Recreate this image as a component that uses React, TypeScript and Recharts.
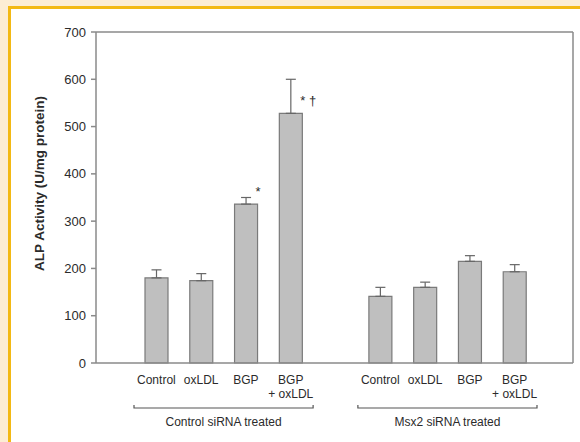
import { BarChart, Bar, XAxis, YAxis, ErrorBar, LabelList, ReferenceLine, Label } from 'recharts';

// categories along the x axis (empty slot separates the two siRNA groups)
const categories = ['Control', 'oxLDL', 'BGP', 'BGP + oxLDL', '', 'Control', 'oxLDL', 'BGP', 'BGP + oxLDL'];
const tickTop = ['Control', 'oxLDL', 'BGP', 'BGP', '', 'Control', 'oxLDL', 'BGP', 'BGP'];
const tickBottom = ['', '', '', '+ oxLDL', '', '', '', '', '+ oxLDL'];

// ALP activity (U/mg protein), mean and SD
const alpMean = [180, 174, 336, 528, null, 141, 160, 215, 193];
const alpSd = [17, 15, 14, 72, null, 19, 11, 12, 15];
const sigMarks = ['', '', '*', '* †', '', '', '', '', ''];

const groupLabels = ['Control siRNA treated', 'Msx2 siRNA treated'];
const groupStart = [0, 5];
const groupSize = [4, 4];

const yTicks = [0, 100, 200, 300, 400, 500, 600, 700];

const data = categories.map((name, i) => ({
  name,
  alp: alpMean[i],
  err: alpSd[i] == null ? null : [0, alpSd[i]],
  sig: sigMarks[i],
}));

const W = 580;
const H = 442;
const MARGIN = { top: 32, right: 0, bottom: 9, left: 36 };
const Y_AXIS_W = 60;
const RIGHT_AXIS_W = 7;
const X_AXIS_H = 70;
const PAD = { left: 38, right: 36 };
const PLOT_W = W - MARGIN.left - MARGIN.right - Y_AXIS_W - RIGHT_AXIS_W;
const STEP = (PLOT_W - PAD.left - PAD.right) / categories.length;

const AXIS = '#8a8a8a';
const TEXT = '#2b2b2b';
const FONT = '"Liberation Sans", Arial, sans-serif';

function CategoryTick(props: any) {
  const { x, y, index } = props;
  const gi = groupStart.indexOf(index);
  let bracket = null;
  if (gi >= 0) {
    const x0 = x - STEP / 2;
    const x1 = x + (groupSize[gi] - 0.5) * STEP;
    const by = y + 45;
    bracket = (
      <g>
        <path d={`M${x0},${by - 3}L${x0},${by}L${x1},${by}L${x1},${by - 3}`} stroke="#555" strokeWidth={1.2} fill="none" />
        <text x={(x0 + x1) / 2} y={y + 63} textAnchor="middle" fontSize={12} fill={TEXT} fontFamily={FONT}>
          {groupLabels[gi]}
        </text>
      </g>
    );
  }
  return (
    <g>
      <text x={x} y={y + 21} textAnchor="middle" fontSize={12} fill={TEXT} fontFamily={FONT}>
        {tickTop[index]}
      </text>
      {tickBottom[index] && (
        <text x={x} y={y + 35} textAnchor="middle" fontSize={12} fill={TEXT} fontFamily={FONT}>
          {tickBottom[index]}
        </text>
      )}
      {bracket}
    </g>
  );
}

function SigLabel(props: any) {
  const { x, y, width, value } = props;
  if (!value) return null;
  return (
    <text x={x + width - 2} y={y - 8} fontSize={13} fill={TEXT} fontFamily={FONT}>
      {value}
    </text>
  );
}

function YTitle(props: any) {
  const { viewBox } = props;
  const cx = viewBox.x + 8;
  const cy = viewBox.y + viewBox.height / 2 - 14;
  return (
    <text
      x={cx}
      y={cy}
      transform={`rotate(-90 ${cx} ${cy})`}
      textAnchor="middle"
      fontSize={13.5}
      fontWeight="bold"
      fill={TEXT}
      fontFamily={FONT}
    >
      ALP Activity (U/mg protein)
    </text>
  );
}

export default function App() {
  return (
    <div style={{ position: 'fixed', left: 0, top: 0, width: W, height: H, background: '#fcedd4', overflow: 'hidden' }}>
      <div
        style={{
          position: 'absolute',
          left: 8,
          top: 6,
          right: 0,
          bottom: 0,
          borderLeft: '3px solid #f3b914',
          borderTop: '3px solid #f3b914',
          background: '#ffffff',
        }}
      />
      <div style={{ position: 'absolute', left: 0, top: 0 }}>
        <BarChart width={W} height={H} data={data} margin={MARGIN}>
          <XAxis
            dataKey="name"
            height={X_AXIS_H}
            interval={0}
            padding={PAD}
            tickLine={false}
            tickSize={0}
            tickMargin={0}
            stroke={AXIS}
            strokeWidth={1.5}
            tick={<CategoryTick />}
          />
          <YAxis
            width={Y_AXIS_W}
            domain={[0, 700]}
            ticks={yTicks}
            interval={0}
            tickSize={5}
            tickMargin={5}
            stroke={AXIS}
            strokeWidth={1.5}
            tick={{ fontSize: 13, fill: TEXT, fontFamily: FONT }}
          >
            <Label content={<YTitle />} />
          </YAxis>
          <YAxis
            yAxisId="right"
            orientation="right"
            width={RIGHT_AXIS_W}
            domain={[0, 700]}
            tick={false}
            tickLine={false}
            stroke={AXIS}
            strokeWidth={1.5}
          />
          <ReferenceLine y={700} stroke={AXIS} strokeWidth={1.5} />
          <Bar dataKey="alp" barSize={23} fill="#bfbfbf" stroke="#7a7a7a" strokeWidth={1.2} isAnimationActive={false}>
            <ErrorBar dataKey="err" width={5} stroke="#666" strokeWidth={1.2} direction="y" />
            <LabelList dataKey="sig" content={<SigLabel />} />
          </Bar>
        </BarChart>
      </div>
    </div>
  );
}
